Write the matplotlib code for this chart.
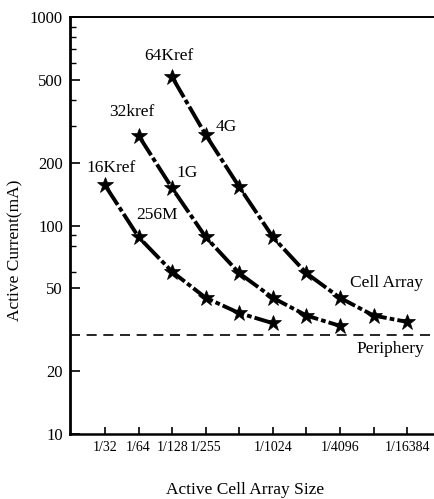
#!/usr/bin/env python3

# Active current vs. active cell array size, three DRAM generations.

import matplotlib
matplotlib.use("Agg")
import matplotlib.pyplot as plt
import numpy as np

# x positions are steps along the array-size axis (1/32 ... 1/16384)
sizeLabels = ["1/32", "1/64", "1/128", "1/255", "", "1/1024", "",
              "1/4096", "", "1/16384"]

# 16Kref / 256M, starts at 1/32
x16k = [0, 1, 2, 3, 4, 5]
i16k = [156, 88, 60, 45, 38, 34]

# 32kref / 1G, starts at 1/64
x32k = [1, 2, 3, 4, 5, 6, 7]
i32k = [270, 151, 88, 59, 45, 37, 33]

# 64Kref / 4G, starts at 1/128
x64k = [2, 3, 4, 5, 6, 7, 8, 9]
i64k = [515, 272, 153, 88, 59, 45, 37, 34.5]

peripheryCurrent = 30

plt.rcParams["font.family"] = ["Liberation Serif", "DejaVu Serif"]

figure = plt.figure(figsize=(4.35, 4.99), dpi=100)
axes = figure.add_axes([70 / 435, 1 - 434 / 499, 365 / 435, 417 / 499])

curveStyle = dict(color="black", linewidth=2.8,
                  linestyle=(0, (6, 0.8, 1.2, 0.8)),
                  marker="*", markersize=12, markeredgewidth=0.5,
                  markerfacecolor="black", markeredgecolor="black")
for xs, ys in [(x16k, i16k), (x32k, i32k), (x64k, i64k)]:
    axes.plot(xs, ys, **curveStyle)

axes.axhline(peripheryCurrent, color="black", linewidth=1.2,
             linestyle=(0, (6, 4)))

axes.set_yscale("log")
axes.set_ylim(10, 1000)
axes.set_xlim(-1.043, 9.83)

axes.set_yticks([10, 20, 50, 100, 200, 500, 1000])
axes.set_yticklabels(["10", "20", "50", "100", "200", "500", "1000"])
minor = [60, 80, 90, 300, 400, 600, 700, 800, 900]
axes.set_yticks(minor, minor=True)
axes.yaxis.set_minor_formatter(matplotlib.ticker.NullFormatter())

axes.set_xticks(np.arange(len(sizeLabels)))
axes.set_xticklabels(sizeLabels)

axes.tick_params(axis="both", which="major", direction="in", length=7,
                 width=1.2, labelsize=12, pad=5)
axes.tick_params(axis="y", which="minor", direction="in", length=4,
                 width=1.0)
axes.tick_params(axis="x", which="major", length=5, labelsize=10)

axes.spines["right"].set_visible(False)
axes.spines["left"].set_linewidth(2.0)
axes.spines["bottom"].set_linewidth(1.8)
axes.spines["top"].set_linewidth(1.4)

labelFont = 12.5
axes.text(0.18, 189, "16Kref", ha="center", va="center", fontsize=labelFont)
axes.text(0.80, 350, "32kref", ha="center", va="center", fontsize=labelFont)
axes.text(1.91, 650, "64Kref", ha="center", va="center", fontsize=labelFont)
axes.text(2.44, 179, "1G", ha="center", va="center", fontsize=labelFont)
axes.text(1.55, 112, "256M", ha="center", va="center", fontsize=labelFont)
axes.text(3.61, 297, "4G", ha="center", va="center", fontsize=labelFont)
axes.text(8.40, 53, "Cell Array", ha="center", va="center",
          fontsize=labelFont)
axes.text(8.49, 25.6, "Periphery", ha="center", va="center",
          fontsize=labelFont)

figure.text(15 / 435, 1 - 250 / 499, "Active Current(mA)", rotation=90,
            ha="center", va="center", fontsize=12.5)
figure.text(245 / 435, 1 - 490 / 499, "Active Cell Array Size",
            ha="center", va="center", fontsize=12.5)

figure.savefig("out.png", dpi=100)
